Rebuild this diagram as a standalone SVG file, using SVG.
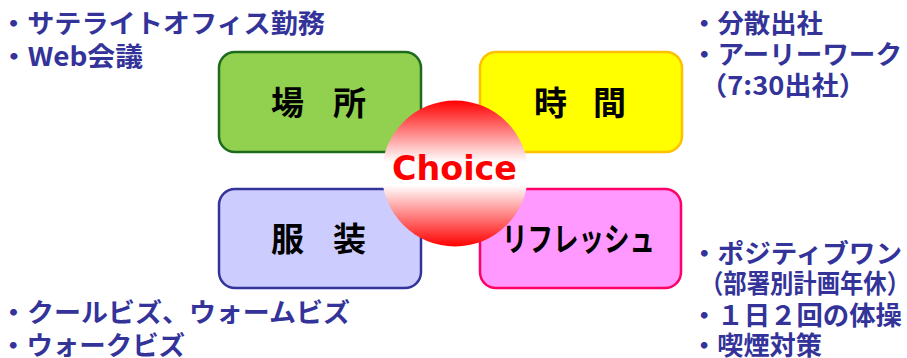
<svg xmlns="http://www.w3.org/2000/svg" width="907" height="358" viewBox="0 0 907 358">
<defs>
<linearGradient id="ballGrad" x1="0" y1="0" x2="0" y2="1">
<stop offset="0" stop-color="#ff0000"/>
<stop offset="0.42" stop-color="#ffffff"/>
<stop offset="0.58" stop-color="#ffffff"/>
<stop offset="1" stop-color="#ff0000"/>
</linearGradient>
</defs>
<style>
.box{stroke-width:2.5}
.lbl{font-family:"Noto Sans CJK JP",sans-serif;font-weight:bold;font-size:33px;fill:#000}
.note{font-family:"Noto Sans CJK JP",sans-serif;font-weight:bold;font-size:26px;fill:#333399}
.choice{font-family:"DejaVu Sans",sans-serif;font-weight:bold;font-size:34px;fill:#ff0000}
</style>
<g id="node-basho">
<rect class="box" x="219" y="52" width="202" height="100" rx="16" fill="#92d050" stroke="#1e6b1e"/>
<text class="lbl" x="271" y="115" textLength="95">場 所</text>
</g>
<g id="node-jikan">
<rect class="box" x="480" y="52" width="202" height="100" rx="16" fill="#ffff00" stroke="#ffc000"/>
<text class="lbl" x="534" y="115" textLength="92">時 間</text>
</g>
<g id="node-fukuso">
<rect class="box" x="219" y="189" width="202" height="99" rx="16" fill="#ccccff" stroke="#333399"/>
<text class="lbl" x="271" y="251" textLength="95">服 装</text>
</g>
<g id="node-refresh">
<rect class="box" x="480" y="189" width="201" height="99" rx="16" fill="#ff99ff" stroke="#ff0066"/>
<text class="lbl" x="502" y="251" font-size="31" textLength="153" lengthAdjust="spacingAndGlyphs">リフレッシュ</text>
</g>
<g id="node-choice">
<circle cx="455" cy="173.5" r="73" fill="url(#ballGrad)"/>
<text class="choice" x="392" y="180" textLength="125" lengthAdjust="spacingAndGlyphs">Choice</text>
</g>
<g id="connectors"></g>
<g id="notes-topleft">
<text class="note" x="0" y="33" textLength="325" lengthAdjust="spacingAndGlyphs">・サテライトオフィス勤務</text>
<text class="note" x="0" y="66" textLength="143" lengthAdjust="spacingAndGlyphs">・Web会議</text>
</g>
<g id="notes-topright">
<text class="note" x="691" y="33" textLength="132" lengthAdjust="spacingAndGlyphs">・分散出社</text>
<text class="note" x="691" y="64" textLength="211" lengthAdjust="spacingAndGlyphs">・アーリーワーク</text>
<text class="note" x="700" y="95" textLength="166" lengthAdjust="spacingAndGlyphs">（7:30出社）</text>
</g>
<g id="notes-bottomright">
<text class="note" x="691" y="263" textLength="211" lengthAdjust="spacingAndGlyphs">・ポジティブワン</text>
<text class="note" x="700" y="293" textLength="210" lengthAdjust="spacingAndGlyphs">（部署別計画年休）</text>
<text class="note" x="691" y="325" textLength="211" lengthAdjust="spacingAndGlyphs">・１日２回の体操</text>
<text class="note" x="691" y="355" textLength="131" lengthAdjust="spacingAndGlyphs">・喫煙対策</text>
</g>
<g id="notes-bottomleft">
<text class="note" x="0" y="322" textLength="350" lengthAdjust="spacingAndGlyphs">・クールビズ、ウォームビズ</text>
<text class="note" x="0" y="355" textLength="185" lengthAdjust="spacingAndGlyphs">・ウォークビズ</text>
</g>
</svg>
